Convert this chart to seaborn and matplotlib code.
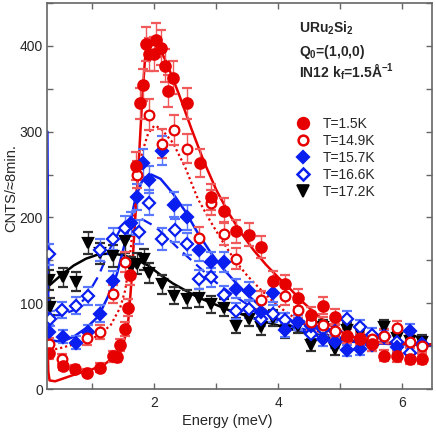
import numpy as np
import matplotlib
matplotlib.use("Agg")
import matplotlib.pyplot as plt
import seaborn as sns
from matplotlib.lines import Line2D
from matplotlib.ticker import MultipleLocator

# Messpunkte (Energie in meV, Zaehlrate pro ~8 min)
e_15 = [0.30, 0.52, 0.72, 0.92, 1.12, 1.33, 1.39, 1.45, 1.53, 1.57, 1.60, 1.71, 1.77, 1.82,
        1.87, 1.91, 2.00, 2.02, 2.10, 2.17, 2.22, 2.30, 2.53, 2.73, 2.91, 3.12, 3.32, 3.52,
        3.72, 3.91, 4.11, 4.31, 4.52, 4.72, 4.92, 5.11, 5.31, 5.51, 5.71, 5.91, 6.12, 6.31]
c_15 = [42, 27, 23, 19, 25, 38, 37, 51, 70, 95, 133, 260, 333, 354,
        402, 390, 391, 407, 398, 377, 347, 363, 333, 263, 224, 208, 184, 180,
        165, 126, 122, 106, 86, 97, 84, 62, 58, 52, 39, 38, 35, 35]

e_149 = [0.30, 0.51, 0.91, 1.12, 1.33, 1.52, 1.72, 1.92, 2.12, 2.32, 2.52, 2.72, 2.91, 3.12,
         3.32, 3.72, 4.11, 4.31, 4.52, 4.72, 4.92, 5.11, 5.31, 5.51, 5.71, 5.91, 6.12, 6.31]
c_149 = [52, 35, 59, 66, 111, 148, 250, 320, 286, 302, 280, 176, 217, 181,
         152, 104, 108, 92, 78, 75, 68, 62, 60, 58, 62, 71, 55, 50]

e_157 = [0.30, 0.53, 0.74, 0.93, 1.12, 1.33, 1.62, 1.72, 1.82, 1.92, 2.12, 2.32, 2.53, 2.72,
         2.92, 3.12, 3.32, 3.52, 3.72, 3.92, 4.11, 4.31, 4.52, 4.72, 4.92, 5.11, 5.31, 5.51,
         5.71, 5.91, 6.12, 6.31]
c_157 = [67, 61, 54, 67, 88, 126, 193, 224, 263, 244, 278, 215, 200, 162,
         148, 148, 117, 114, 90, 112, 69, 78, 73, 58, 55, 45, 47, 51,
         61, 49, 68, 52]

e_166 = [0.30, 0.31, 0.51, 0.73, 0.93, 1.12, 1.33, 1.53, 1.75, 1.92, 2.12, 2.33, 2.53, 2.72,
         2.91, 3.12, 3.32, 3.52, 3.72, 3.91, 4.11, 4.31, 4.52, 4.72, 4.92, 5.11, 5.31, 5.51,
         5.71, 5.91, 6.12, 6.31]
c_166 = [157, 82, 92, 97, 108, 162, 175, 188, 183, 217, 175, 185, 169, 128,
         130, 110, 91, 93, 82, 88, 80, 78, 64, 70, 68, 82, 72, 63,
         62, 55, 42, 53]

e_172 = [0.30, 0.31, 0.53, 0.73, 0.93, 1.13, 1.33, 1.53, 1.62, 1.72, 1.83, 1.92, 2.12, 2.32,
         2.52, 2.72, 2.91, 3.12, 3.32, 3.52, 3.72, 3.92, 4.11, 4.31, 4.52, 4.72, 4.92, 5.11,
         5.31, 5.51, 5.71, 5.91, 6.12, 6.31]
c_172 = [127, 96, 130, 125, 170, 158, 155, 172, 142, 146, 151, 135, 122, 109,
         105, 106, 99, 95, 74, 82, 72, 83, 68, 74, 51, 72, 47, 69,
         67, 57, 72, 59, 56, 55]

# Fitkurven, Stuetzpunkte
fe_15 = [0.275, 0.29, 0.31, 0.40, 0.60, 0.80, 1.00, 1.20, 1.40, 1.50, 1.57, 1.60, 1.64, 1.67,
         1.72, 1.76, 1.80, 1.85, 1.90, 2.00, 2.10, 2.20, 2.40, 2.60, 2.80, 3.00, 3.20, 3.40,
         3.60, 3.80, 4.00, 4.20, 4.40, 4.60, 4.80, 5.00, 5.20, 5.40, 5.70, 6.00, 6.48]
fc_15 = [60, 20, 10, 9, 14, 19, 23, 29, 40, 53, 73, 96, 135, 174,
         230, 280, 333, 385, 399, 402, 395, 380, 343, 303, 265, 232, 205, 182,
         162, 145, 130, 116, 101, 88, 76, 67, 61, 57, 54, 53, 52]

fe_149 = [0.275, 0.29, 0.31, 0.50, 0.80, 1.10, 1.30, 1.45, 1.53, 1.60, 1.67, 1.72, 1.80, 1.90,
          2.00, 2.10, 2.30, 2.50, 2.70, 2.90, 3.10, 3.30, 3.50, 3.70, 3.90, 4.10, 4.30, 4.50,
          4.70, 5.00, 5.40, 6.00, 6.48]
fc_149 = [80, 55, 45, 48, 54, 62, 75, 95, 115, 150, 200, 236, 275, 298,
          307, 304, 287, 258, 222, 196, 172, 150, 132, 117, 103, 91, 81, 72,
          65, 58, 54, 52, 51]

fe_157 = [0.275, 0.29, 0.31, 0.50, 0.70, 0.90, 1.10, 1.30, 1.40, 1.50, 1.60, 1.70, 1.80, 1.95,
          2.10, 2.30, 2.50, 2.70, 2.90, 3.10, 3.30, 3.50, 3.70, 3.90, 4.10, 4.30, 4.50, 4.80,
          5.20, 5.60, 6.00, 6.48]
fc_157 = [300, 80, 57, 55, 61, 71, 85, 115, 135, 163, 190, 224, 242, 250,
          245, 228, 207, 182, 160, 141, 125, 110, 97, 86, 77, 70, 65, 59,
          55, 53, 52, 51]

fe_166 = [0.275, 0.29, 0.31, 0.50, 0.70, 0.90, 1.10, 1.30, 1.45, 1.60, 1.80, 2.00, 2.20, 2.40,
          2.60, 2.80, 3.00, 3.30, 3.60, 3.90, 4.20, 4.60, 5.00, 5.40, 5.80, 6.20, 6.48]
fc_166 = [250, 110, 86, 86, 92, 107, 132, 166, 186, 195, 198, 190, 177, 163,
          150, 137, 124, 108, 94, 83, 74, 66, 60, 56, 53, 52, 51]

fe_172 = [0.275, 0.29, 0.31, 0.50, 0.70, 0.90, 1.10, 1.30, 1.50, 1.70, 1.90, 2.10, 2.30, 2.50,
          2.70, 2.90, 3.20, 3.50, 3.80, 4.10, 4.40, 4.80, 5.20, 5.60, 6.00, 6.48]
fc_172 = [160, 128, 121, 133, 144, 152, 157, 158, 156, 151, 144, 133, 123, 115,
          107, 101, 92, 85, 78, 72, 66, 60, 56, 54, 53, 52]

labels = ["T=1.5K", "T=14.9K", "T=15.7K", "T=16.6K", "T=17.2K"]

RED = "#e60000"
RED_ERR = "#f05a5a"
BLUE = "#0a1ef0"
BLUE_ERR = "#5a78ff"

sns.set_style("ticks")
plt.rcParams['font.family'] = ['Liberation Sans', 'DejaVu Sans']
plt.rcParams['mathtext.fontset'] = 'custom'
plt.rcParams['mathtext.rm'] = 'Liberation Sans'
plt.rcParams['mathtext.bf'] = 'Liberation Sans:bold'

fig = plt.figure(figsize=(4.36, 4.33), dpi=100)
ax = fig.add_axes([0.108, 0.1016, 0.883, 0.8915])

# Fitkurven
sns.lineplot(x=fe_172, y=fc_172, ax=ax, color="black", linewidth=1.8, estimator=None, sort=False)
sns.lineplot(x=fe_166, y=fc_166, ax=ax, color=BLUE, linewidth=1.6, linestyle=(0, (5, 3)),
             estimator=None, sort=False)
sns.lineplot(x=fe_157, y=fc_157, ax=ax, color=BLUE, linewidth=1.8, estimator=None, sort=False)
sns.lineplot(x=fe_149, y=fc_149, ax=ax, color=RED, linewidth=1.6, linestyle=(0, (1, 1.3)),
             estimator=None, sort=False)
sns.lineplot(x=fe_15, y=fc_15, ax=ax, color=RED, linewidth=1.8, estimator=None, sort=False)

# Messpunkte mit Fehlerbalken (Zaehlstatistik)
serien = [
    (e_172, c_172, "v", "black", "black", "#303030", 7),
    (e_166, c_166, "D", "white", BLUE, BLUE_ERR, 6),
    (e_157, c_157, "D", BLUE, BLUE, BLUE_ERR, 6),
    (e_149, c_149, "o", "white", RED, RED_ERR, 7),
    (e_15, c_15, "o", RED, RED, RED_ERR, 7.5),
]
for e, c, m, fc, ec, errc, ms in serien:
    c = np.array(c, dtype=float)
    ax.errorbar(e, c, yerr=np.sqrt(c), fmt=m, ms=ms, mfc=fc, mec=ec, mew=1.6,
                ecolor=errc, elinewidth=1.0, capsize=3.5, capthick=1.0, clip_on=True)

ax.set_xlim(0.27, 6.48)
ax.set_ylim(0, 450)
ax.xaxis.set_major_locator(MultipleLocator(2))
ax.xaxis.set_minor_locator(MultipleLocator(1))
ax.yaxis.set_major_locator(MultipleLocator(100))
ax.yaxis.set_minor_locator(MultipleLocator(50))
ax.tick_params(which="both", direction="in", top=True, right=True, length=4, width=1,
               color="0.4", labelsize=10)
ax.tick_params(axis="x", pad=5)
ax.tick_params(axis="y", pad=3)
for sp in ax.spines.values():
    sp.set_color("0.4")
    sp.set_linewidth(1.2)

ax.set_xlabel("Energy (meV)", fontsize=10.5)
ax.set_ylabel("CNTS/\u22488min.", fontsize=10.5)
ax.xaxis.set_label_coords(0.468, -0.066)
ax.yaxis.set_label_coords(-0.076, 0.52)

# Probenangaben
ax.text(0.655, 0.935, r"URu$_\mathbf{2}$Si$_\mathbf{2}$", transform=ax.transAxes,
        fontsize=10, fontweight="bold", va="center")
ax.text(0.655, 0.872, r"Q$_\mathbf{0}$=(1,0,0)", transform=ax.transAxes,
        fontsize=10, fontweight="bold", va="center")
ax.text(0.655, 0.822, r"IN12 k$_\mathbf{f}$=1.5Å$^\mathbf{-1}$", transform=ax.transAxes,
        fontsize=10, fontweight="bold", va="center")

handles = [
    Line2D([], [], ls="none", marker="o", ms=8, mfc=RED, mec=RED, mew=1.6),
    Line2D([], [], ls="none", marker="o", ms=7, mfc="white", mec=RED, mew=1.8),
    Line2D([], [], ls="none", marker="D", ms=6.5, mfc=BLUE, mec=BLUE, mew=1.6),
    Line2D([], [], ls="none", marker="D", ms=6, mfc="white", mec=BLUE, mew=1.8),
    Line2D([], [], ls="none", marker="v", ms=8, mfc="black", mec="black", mew=1.2),
]
ax.legend(handles, labels, loc="upper left", bbox_to_anchor=(0.647, 0.705), frameon=False,
          fontsize=10, handlelength=1.0, handletextpad=0.9, labelspacing=0.22,
          borderpad=0, borderaxespad=0)

fig.savefig("out.png", dpi=100)
